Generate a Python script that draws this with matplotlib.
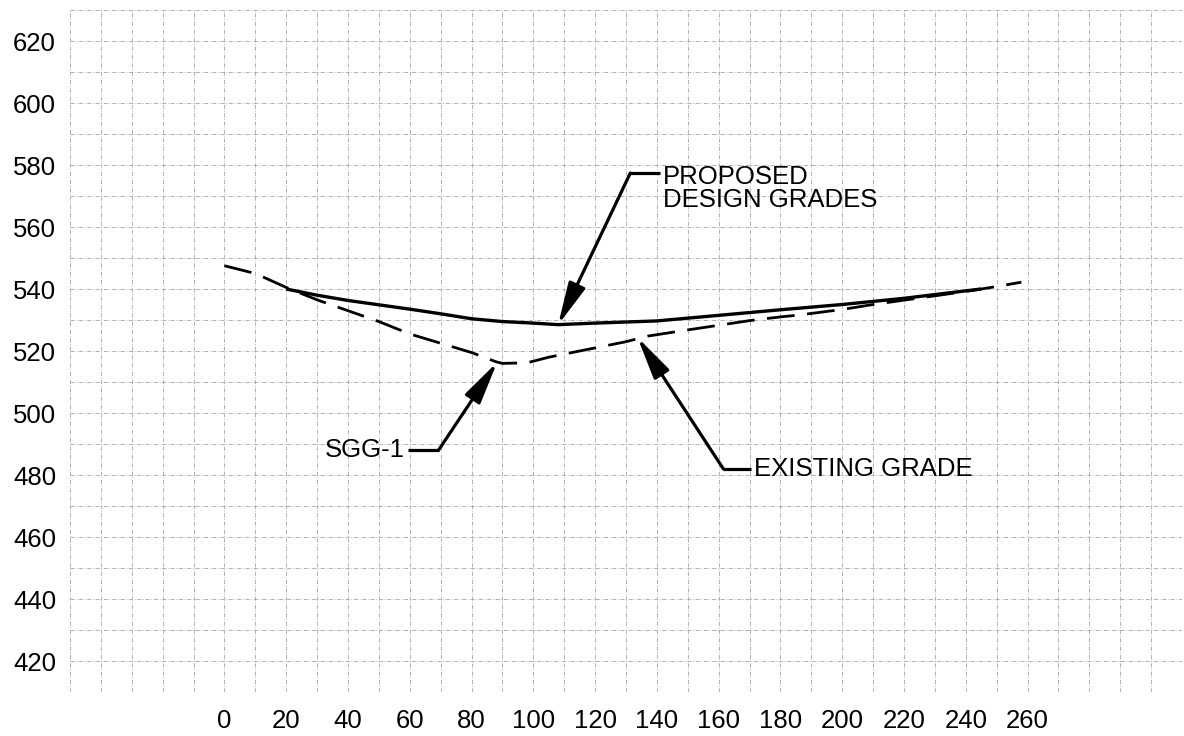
import matplotlib.pyplot as plt
from matplotlib.ticker import MultipleLocator

plt.rcParams['font.family'] = ['Liberation Sans', 'DejaVu Sans']

# Existing grade (dashed) - station vs elevation
existing_station = [0, 10, 20, 30, 40, 50, 60, 70, 80, 88, 90, 98, 105, 110, 120, 130, 137,
                    150, 160, 170, 180, 186, 200, 210, 220, 230, 240, 250, 258]
existing_elev = [547.5, 545, 540.5, 536.5, 533, 529.5, 525.5, 522.5, 519.5, 516.5, 516, 516.2,
                 518, 519, 521, 523, 524.8, 526.8, 528.3, 529.8, 531, 531.6, 533.4, 535,
                 536.4, 537.8, 539.2, 540.8, 542.2]

# Proposed design grades (solid)
proposed_station = [20, 30, 40, 50, 60, 70, 80, 90, 100, 108, 120, 140, 160, 180, 200, 220, 245]
proposed_elev = [540, 538, 536.3, 534.9, 533.5, 532, 530.4, 529.5, 529, 528.5, 529, 529.7,
                 531.5, 533.3, 535, 537, 540]

x_labels = list(range(0, 261, 20))
y_labels = list(range(420, 621, 20))

fig = plt.figure(figsize=(11.84, 7.36), dpi=100)
ax = fig.add_axes([70 / 1184, 44 / 736, 1112 / 1184, 682 / 736])

ax.plot(proposed_station, proposed_elev, '-', color='black', lw=2.4, solid_capstyle='butt')
ax.plot(existing_station, existing_elev, color='black', lw=2.0, linestyle=(0, (10, 4.5)))

ax.set_xlim(-50, 310)
ax.set_ylim(410, 630)
ax.set_xticks(x_labels)
ax.set_yticks(y_labels)
ax.xaxis.set_minor_locator(MultipleLocator(10))
ax.yaxis.set_minor_locator(MultipleLocator(10))
ax.tick_params(which='both', length=0, labelsize=18.5)
ax.tick_params(axis='x', pad=12)
ax.tick_params(axis='y', pad=10)
ax.grid(True, which='both', color='#a5a5a5', lw=0.6, linestyle=(0, (5, 2, 1, 2)))
for s in ax.spines.values():
    s.set_visible(False)

arrow = dict(arrowstyle='-|>,head_length=1.3,head_width=0.27', color='black', lw=2.3,
             shrinkA=0, shrinkB=0, mutation_scale=20)


def callout(label, tip, elbow, text_xy, ha):
    ax.annotate('', xy=tip, xytext=elbow, arrowprops=arrow)
    ax.plot([elbow[0], text_xy[0]], [elbow[1], elbow[1]], color='black', lw=2.3,
            solid_capstyle='butt')
    ax.text(text_xy[0] + (1.0 if ha == 'left' else -1.0), text_xy[1], label, ha=ha,
            va='center', fontsize=18.5, linespacing=0.95)


callout('PROPOSED\nDESIGN GRADES', (108, 528.4), (131.4, 577.4), (141, 572.3), 'left')
callout('SGG-1', (88.3, 516.4), (69.3, 488), (59.5, 488), 'right')
callout('EXISTING GRADE', (133.7, 524.4), (161.5, 482), (170.5, 482), 'left')

fig.savefig('out.png', dpi=100)
